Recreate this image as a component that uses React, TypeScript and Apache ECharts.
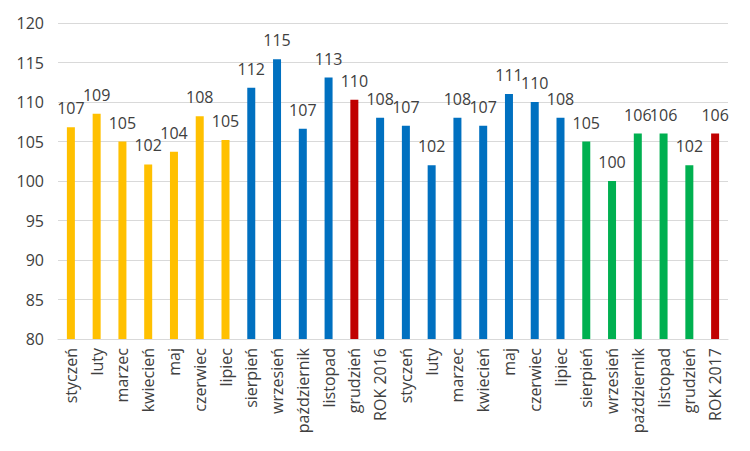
import React, { useEffect, useRef } from "react";
import * as echarts from "echarts";

const categories = [
  "styczeń", "luty", "marzec", "kwiecień", "maj", "czerwiec", "lipiec",
  "sierpień", "wrzesień", "październik", "listopad", "grudzień", "ROK 2016",
  "styczeń", "luty", "marzec", "kwiecień", "maj", "czerwiec", "lipiec",
  "sierpień", "wrzesień", "październik", "listopad", "grudzień", "ROK 2017",
];

const values = [
  106.8, 108.5, 105.0, 102.1, 103.7, 108.2, 105.2,
  111.8, 115.4, 106.6, 113.1, 110.3, 108.0,
  107.0, 102.0, 108.0, 107.0, 111.0, 110.0, 108.0,
  105.0, 100.0, 106.0, 106.0, 102.0, 106.0,
];

const groups = [
  "y", "y", "y", "y", "y", "y", "y",
  "b", "b", "b", "b", "r", "b",
  "b", "b", "b", "b", "b", "b", "b",
  "g", "g", "g", "g", "g", "r",
];

const palette: Record<string, string> = {
  y: "#FFC000",
  b: "#0070C0",
  r: "#C00000",
  g: "#00B050",
};

const yTicks = { min: 80, max: 120, interval: 5 };

export default function App() {
  const ref = useRef<HTMLDivElement>(null);
  useEffect(() => {
    if (!ref.current) return;
    const chart = echarts.init(ref.current, null, { renderer: "svg" });
    const font = "'Open Sans', 'Noto Sans', sans-serif";
    chart.setOption({
      animation: false,
      grid: { left: 58, right: 22, top: 23, bottom: 112, containLabel: false },
      xAxis: {
        type: "category",
        data: categories,
        axisTick: { show: false },
        axisLine: { lineStyle: { color: "#d9d9d9" } },
        axisLabel: {
          rotate: 90,
          interval: 0,
          color: "#404040",
          fontSize: 16,
          fontFamily: font,
          margin: 9,
        },
      },
      yAxis: {
        type: "value",
        min: yTicks.min,
        max: yTicks.max,
        interval: yTicks.interval,
        axisLine: { show: false },
        axisTick: { show: false },
        splitLine: { lineStyle: { color: "#d9d9d9" } },
        axisLabel: {
          color: "#404040",
          fontSize: 16,
          fontFamily: font,
          margin: 14,
        },
      },
      series: [
        {
          type: "bar",
          barWidth: 8,
          data: values.map((v, i) => ({
            value: v,
            itemStyle: { color: palette[groups[i]] },
          })),
          label: {
            show: true,
            position: "top",
            distance: 11,
            color: "#404040",
            fontSize: 16,
            fontFamily: font,
            formatter: (p: any) => String(Math.round(p.value)),
          },
        },
      ],
    });
    return () => chart.dispose();
  }, []);
  return <div ref={ref} style={{ width: 750, height: 451, margin: -8 }} />;
}
